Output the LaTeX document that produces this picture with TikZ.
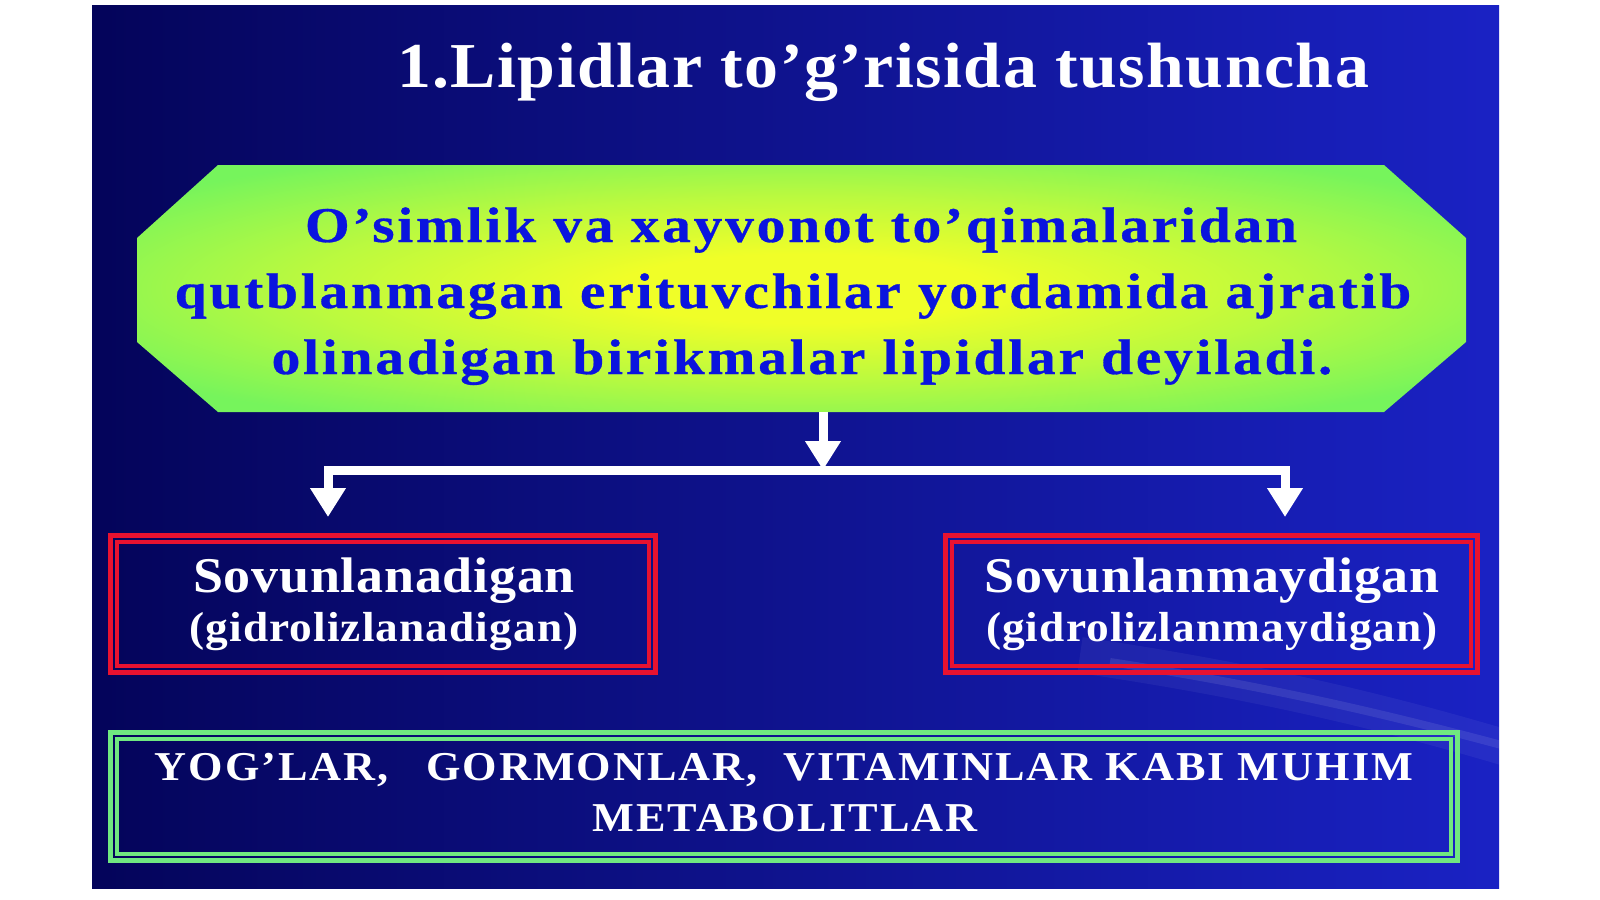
\documentclass[tikz,border=0pt]{standalone}
\usepackage{fontspec}
\setmainfont{Liberation Serif}
\newfontfamily\ttlfont[FakeStretch=1.06,LetterSpace=2.3]{Liberation Serif}
\newfontfamily\octfont[FakeStretch=1.15,LetterSpace=5.5,BoldFeatures={FakeBold=0.6}]{Liberation Serif}
\newfontfamily\boxfont[FakeStretch=1.08,LetterSpace=1.5]{Liberation Serif}
\newfontfamily\parfont[FakeStretch=1.08,LetterSpace=2.6]{Liberation Serif}
\newfontfamily\capfont[FakeStretch=1.08,LetterSpace=4.8]{Liberation Serif}
\usetikzlibrary{arrows.meta,calc}
\definecolor{bgA}{RGB}{4,4,90}
\definecolor{bgB}{RGB}{4,6,148}
\definecolor{bgC}{RGB}{26,34,196}
\definecolor{octIn}{RGB}{240,254,40}
\definecolor{octOut}{RGB}{118,244,92}
\definecolor{txtblue}{RGB}{10,20,222}
\definecolor{boxred}{RGB}{232,18,48}
\definecolor{boxgreen}{RGB}{112,232,128}
\pgfdeclareradialshading{octshade}{\pgfpoint{0bp}{0bp}}{%
  color(0bp)=(octIn); color(7bp)=(octIn); color(19bp)=(octIn!55!octOut);
  color(31bp)=(octOut); color(50bp)=(octOut)}
\tikzset{
  wline/.style={draw=white,line width=9pt},
  wtip/.style={-{Triangle[width=34pt,length=29pt]}},
  redin/.style={draw=boxred,line width=3.5pt},
  greenin/.style={draw=boxgreen,line width=3.5pt},
  ttl/.style={anchor=base,text=white,font=\fontsize{64}{70}\ttlfont\bfseries,inner sep=0pt},
  octtxt/.style={anchor=base,text=txtblue,font=\fontsize{50}{56}\octfont\bfseries,inner sep=0pt},
  bigw/.style={anchor=base,text=white,font=\fontsize{50}{56}\boxfont\bfseries,inner sep=0pt},
  smallw/.style={anchor=base,text=white,font=\fontsize{42}{46}\parfont\bfseries,inner sep=0pt},
  capw/.style={anchor=base,text=white,font=\fontsize{41}{46}\capfont\bfseries,inner sep=0pt},
  redbox/.style={draw=boxred,line width=5pt,minimum height=137pt,inner sep=0pt},
  greenbox/.style={draw=boxgreen,line width=5pt,minimum width=1347pt,minimum height=128pt,inner sep=0pt},
}
\begin{document}
\begin{tikzpicture}[x=1pt,y=-1pt]
\useasboundingbox (0,0) rectangle (1600,899);
\fill[white] (0,0) rectangle (1600,899);
% background
\shade[left color=bgA, middle color=bgB, right color=bgC] (92,6) rectangle (1499,888);
\begin{scope}
\clip (92,6) rectangle (1499,888);
\draw[white,opacity=0.05,line width=36pt] (1080,655) .. controls (1250,680) and (1380,710) .. (1520,752);
\draw[white,opacity=0.09,line width=8pt] (1110,662) .. controls (1260,685) and (1380,712) .. (1520,750);
\end{scope}
% octagon
\coordinate (o1) at (218,165); \coordinate (o2) at (1384,165);
\coordinate (o3) at (1466,238); \coordinate (o4) at (1466,342);
\coordinate (o5) at (1384,412); \coordinate (o6) at (218,412);
\coordinate (o7) at (137,342); \coordinate (o8) at (137,238);
\shade[shading=octshade] (o1) -- (o2) -- (o3) -- (o4) -- (o5) -- (o6) -- (o7) -- (o8) -- cycle;
\coordinate (oct) at (823,412);
% title
\node[ttl] (title) at (883,88) {1.Lipidlar to’g’risida tushuncha};
% octagon text
\node[octtxt] (l1) at (801,242) {O’simlik va xayvonot to’qimalaridan};
\node[octtxt] (l2) at (793,308) {qutblanmagan erituvchilar yordamida ajratib};
\node[octtxt] (l3) at (802,374) {olinadigan birikmalar lipidlar deyiladi.};
% red boxes
\node[redbox,minimum width=545pt] (box1) at (383,604) {};
\draw[redin] ($(box1.north west)+(9,9)$) rectangle ($(box1.south east)+(-9,-9)$);
\node[redbox,minimum width=532pt] (box2) at (1211.5,604) {};
\draw[redin] ($(box2.north west)+(9,9)$) rectangle ($(box2.south east)+(-9,-9)$);
\node[bigw] (s1) at (384,592) {Sovunlanadigan};
\node[smallw] (g1) at (384,641) {(gidrolizlanadigan)};
\node[bigw] (s2) at (1212,592) {Sovunlanmaydigan};
\node[smallw] (g2) at (1212,641) {(gidrolizlanmaydigan)};
% green box
\node[greenbox] (box3) at (784,796.5) {};
\draw[greenin] ($(box3.north west)+(9,9)$) rectangle ($(box3.south east)+(-9,-9)$);
\node[capw] (c1) at (784,780) {YOG’LAR,\hspace{0.6em} GORMONLAR,\hspace{0.3em} VITAMINLAR KABI MUHIM};
\node[capw] (c2) at (785,831) {METABOLITLAR};
% connectors
\coordinate (hub) at (823,470);
\draw[wline,wtip] (oct) -- (hub);
\draw[wline,wtip,shorten >=16pt] (hub) -| (box1.north -| 328,0);
\draw[wline,wtip,shorten >=16pt] (hub) -| (box2.north -| 1285,0);
\end{tikzpicture}
\end{document}
